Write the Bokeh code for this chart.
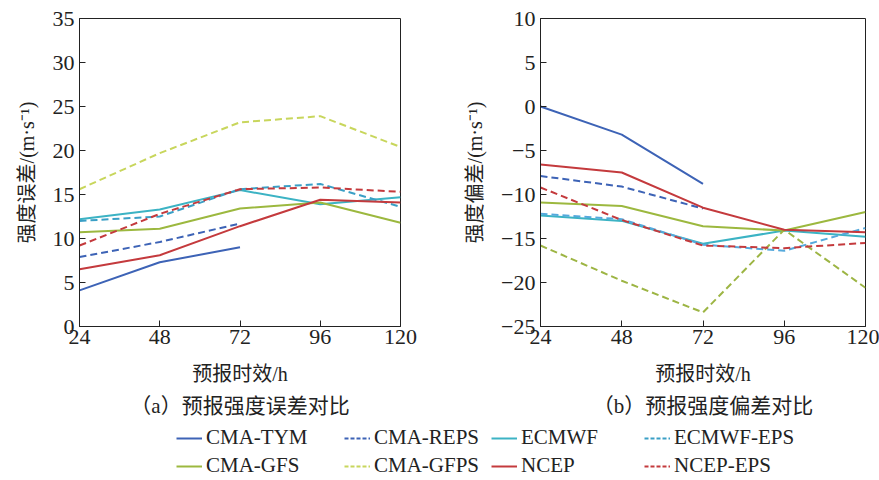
import math
from bokeh.plotting import figure
from bokeh.models import (Range1d, FixedTicker, CustomJSTickFormatter, Title, Legend,
                          LegendItem, ColumnDataSource)
from bokeh.layouts import column, row
from bokeh.embed import file_html
from bokeh.resources import INLINE

hours = [24, 48, 72, 96, 120]
models = ["CMA-TYM", "CMA-REPS", "ECMWF", "ECMWF-EPS",
          "CMA-GFS", "CMA-GFPS", "NCEP", "NCEP-EPS"]

# (a) intensity error, m/s
err_cma_tym = [4.1, 7.3, 9.0]
err_cma_reps = [7.9, 9.6, 11.7]
err_ecmwf = [12.2, 13.3, 15.5, 13.9, 14.7]
err_ecmwf_eps = [12.0, 12.5, 15.6, 16.2, 13.6]
err_cma_gfs = [10.7, 11.1, 13.4, 14.1, 11.8]
err_cma_gfps = [15.6, 19.7, 23.2, 23.9, 20.4]
err_ncep = [6.5, 8.1, 11.4, 14.4, 14.1]
err_ncep_eps = [9.2, 12.8, 15.6, 15.8, 15.3]

# (b) intensity bias, m/s
bias_cma_tym = [0.0, -3.2, -8.8]
bias_cma_reps = [-7.9, -9.1, -11.6]
bias_ecmwf = [-12.4, -13.0, -15.6, -14.1, -14.8]
bias_ecmwf_eps = [-12.2, -12.8, -15.7, -16.4, -13.8]
bias_cma_gfs = [-10.9, -11.3, -13.6, -14.1, -12.0]
bias_cma_gfps = [-15.8, -19.8, -23.4, -14.0, -20.6]
bias_ncep = [-6.6, -7.5, -11.5, -14.0, -14.3]
bias_ncep_eps = [-9.2, -12.9, -15.8, -16.1, -15.5]

err_series = [err_cma_tym, err_cma_reps, err_ecmwf, err_ecmwf_eps,
              err_cma_gfs, err_cma_gfps, err_ncep, err_ncep_eps]
bias_series = [bias_cma_tym, bias_cma_reps, bias_ecmwf, bias_ecmwf_eps,
               bias_cma_gfs, bias_cma_gfps, bias_ncep, bias_ncep_eps]

colors_a = ["#3d63b6", "#3d63b6", "#3cb3c4", "#3a9fc6",
            "#9cb83f", "#c8d65c", "#c43a3d", "#c43a3d"]
colors_b = ["#3d63b6", "#3d63b6", "#3cb3c4", "#55a9dc",
            "#9cb83f", "#9db544", "#c43a3d", "#c43a3d"]
dashes = ["solid", "dashed", "solid", "dashed", "solid", "dashed", "solid", "dashed"]
DASH = "7 4"

SERIF = "'Liberation Serif', 'Noto Sans CJK SC'"

minus_fmt = CustomJSTickFormatter(code="return String(tick).replace('-', '\u2212');")


def make_panel(width, bl, br, yr, ytick_vals, ylabel, caption, series, colors):
    p = figure(width=width, height=425, x_range=Range1d(24, 120), y_range=Range1d(*yr),
               output_backend="svg", toolbar_location=None,
               min_border_left=bl, min_border_right=br, min_border_top=18,
               min_border_bottom=99)
    p.grid.visible = False
    p.outline_line_color = "#222222"
    p.outline_line_width = 1
    p.background_fill_color = "white"
    p.border_fill_color = "white"
    for i, vals in enumerate(series):
        p.line(hours[:len(vals)], vals, line_color=colors[i], line_width=2,
               line_dash=(DASH if dashes[i] == "dashed" else "solid"))
    p.xaxis.ticker = FixedTicker(ticks=hours)
    p.yaxis.ticker = FixedTicker(ticks=ytick_vals)
    p.yaxis.formatter = minus_fmt
    for ax in (p.xaxis, p.yaxis):
        ax.major_tick_in = 6
        ax.major_tick_out = 0
        ax.minor_tick_line_color = None
        ax.axis_line_color = "#222222"
        ax.major_tick_line_color = "#222222"
        ax.major_label_text_font = SERIF
        ax.major_label_text_font_size = "22px"
        ax.major_label_text_color = "#222222"
        ax.axis_label_text_font = SERIF
        ax.axis_label_text_font_style = "normal"
        ax.axis_label_text_font_size = "20px"
        ax.axis_label_text_color = "#222222"
    p.xaxis.major_label_standoff = 3
    p.yaxis.major_label_standoff = 5
    p.xaxis.axis_label = "预报时效/h"
    p.xaxis.axis_label_standoff = 16
    p.yaxis.axis_label = ylabel
    p.yaxis.axis_label_standoff = 12
    p.add_layout(Title(text=caption, align="center", text_font=SERIF,
                       text_font_size="21px", text_font_style="normal",
                       text_color="#222222", standoff=8), "below")
    return p


pa = make_panel(440, 79, 40, (0, 35), [0, 5, 10, 15, 20, 25, 30, 35],
                "强度误差/(m·s⁻¹)", "（a）预报强度误差对比", err_series, colors_a)
pb = make_panel(439, 100, 14, (-25, 10), [-25, -20, -15, -10, -5, 0, 5, 10],
                "强度偏差/(m·s⁻¹)", "（b）预报强度偏差对比", bias_series, colors_b)

pl = figure(width=879, height=55, x_range=Range1d(0, 879), y_range=Range1d(0, 55),
            output_backend="svg", toolbar_location=None, min_border=0)
pl.axis.visible = False
pl.grid.visible = False
pl.outline_line_color = None

renderers = []
for i, name in enumerate(models):
    # off-screen placeholder data so that the legend glyph is drawn
    src = ColumnDataSource(data=dict(x=[-50, -40], y=[-50, -50]))
    r = pl.line("x", "y", source=src, line_color=colors_a[i],
                line_width=2, line_dash=("4 2" if dashes[i] == "dashed" else "solid"))
    renderers.append(r)

col_x = [176, 344, 491, 644]
for c in range(4):
    items = [LegendItem(label=models[c], renderers=[renderers[c]]),
             LegendItem(label=models[c + 4], renderers=[renderers[c + 4]])]
    lg = Legend(items=items, location=(col_x[c], 2), orientation="vertical",
                glyph_width=26, glyph_height=20, spacing=3, padding=0, margin=0,
                label_standoff=4, label_text_font=SERIF, label_text_font_size="21px",
                label_text_color="#222222", border_line_color=None,
                background_fill_alpha=0)
    pl.add_layout(lg, "center")

layout = column(row(pa, pb), pl)
open("out.html", "w").write(file_html(layout, INLINE))
